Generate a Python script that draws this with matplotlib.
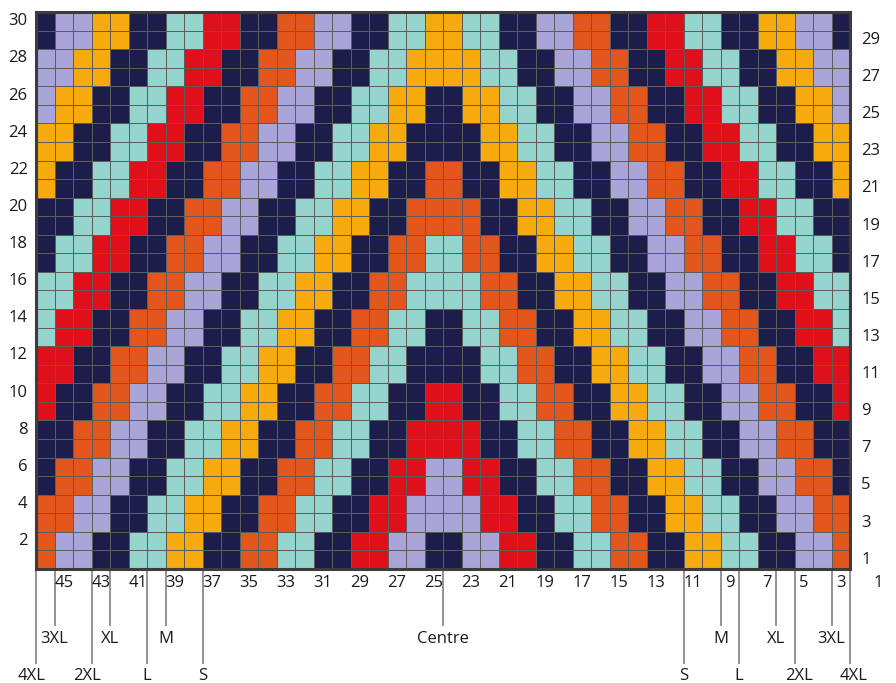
import numpy as np
import matplotlib
matplotlib.use("Agg")
import matplotlib.pyplot as plt
from matplotlib.colors import ListedColormap

# Colour keys used in the chart rows
COLOR_KEYS = ["N", "L", "Y", "T", "O", "R"]
COLOR_HEX = {
    "N": "#1c1d4b",  # navy
    "L": "#a9a5d8",  # lavender
    "Y": "#f6aa0e",  # yellow
    "T": "#95d4cc",  # teal
    "O": "#e3561b",  # orange
    "R": "#df1019",  # red
}

# Chart rows, top (row 30) to bottom (row 1); one character per stitch
chart_rows = [
    "NLLYYNNTTRRNNOOLLNNTTYYTTNNLLOONNRRTTNNYYLLN",  # 30
    "NLLYYNNTTRRNNOOLLNNTTYYTTNNLLOONNRRTTNNYYLLN",  # 29
    "LLYYNNTTRRNNOOLLNNTTYYYYTTNNLLOONNRRTTNNYYLL",  # 28
    "LLYYNNTTRRNNOOLLNNTTYYYYTTNNLLOONNRRTTNNYYLL",  # 27
    "LYYNNTTRRNNOOLLNNTTYYNNYYTTNNLLOONNRRTTNNYYL",  # 26
    "LYYNNTTRRNNOOLLNNTTYYNNYYTTNNLLOONNRRTTNNYYL",  # 25
    "YYNNTTRRNNOOLLNNTTYYNNNNYYTTNNLLOONNRRTTNNYY",  # 24
    "YYNNTTRRNNOOLLNNTTYYNNNNYYTTNNLLOONNRRTTNNYY",  # 23
    "YNNTTRRNNOOLLNNTTYYNNOONNYYTTNNLLOONNRRTTNNY",  # 22
    "YNNTTRRNNOOLLNNTTYYNNOONNYYTTNNLLOONNRRTTNNY",  # 21
    "NNTTRRNNOOLLNNTTYYNNOOOONNYYTTNNLLOONNRRTTNN",  # 20
    "NNTTRRNNOOLLNNTTYYNNOOOONNYYTTNNLLOONNRRTTNN",  # 19
    "NTTRRNNOOLLNNTTYYNNOOTTOONNYYTTNNLLOONNRRTTN",  # 18
    "NTTRRNNOOLLNNTTYYNNOOTTOONNYYTTNNLLOONNRRTTN",  # 17
    "TTRRNNOOLLNNTTYYNNOOTTTTOONNYYTTNNLLOONNRRTT",  # 16
    "TTRRNNOOLLNNTTYYNNOOTTTTOONNYYTTNNLLOONNRRTT",  # 15
    "TRRNNOOLLNNTTYYNNOOTTNNTTOONNYYTTNNLLOONNRRT",  # 14
    "TRRNNOOLLNNTTYYNNOOTTNNTTOONNYYTTNNLLOONNRRT",  # 13
    "RRNNOOLLNNTTYYNNOOTTNNNNTTOONNYYTTNNLLOONNRR",  # 12
    "RRNNOOLLNNTTYYNNOOTTNNNNTTOONNYYTTNNLLOONNRR",  # 11
    "RNNOOLLNNTTYYNNOOTTNNRRNNTTOONNYYTTNNLLOONNR",  # 10
    "RNNOOLLNNTTYYNNOOTTNNRRNNTTOONNYYTTNNLLOONNR",  # 9
    "NNOOLLNNTTYYNNOOTTNNRRRRNNTTOONNYYTTNNLLOONN",  # 8
    "NNOOLLNNTTYYNNOOTTNNRRRRNNTTOONNYYTTNNLLOONN",  # 7
    "NOOLLNNTTYYNNOOTTNNRRLLRRNNTTOONNYYTTNNLLOON",  # 6
    "NOOLLNNTTYYNNOOTTNNRRLLRRNNTTOONNYYTTNNLLOON",  # 5
    "OOLLNNTTYYNNOOTTNNRRLLLLRRNNTTOONNYYTTNNLLOO",  # 4
    "OOLLNNTTYYNNOOTTNNRRLLLLRRNNTTOONNYYTTNNLLOO",  # 3
    "OLLNNTTYYNNOOTTNNRRLLNNLLRRNNTTOONNYYTTNNLLO",  # 2
    "OLLNNTTYYNNOOTTNNRRLLNNLLRRNNTTOONNYYTTNNLLO",  # 1
]

row_labels_left = [2, 4, 6, 8, 10, 12, 14, 16, 18, 20, 22, 24, 26, 28, 30]
row_labels_right = [1, 3, 5, 7, 9, 11, 13, 15, 17, 19, 21, 23, 25, 27, 29]
stitch_labels = [45, 43, 41, 39, 37, 35, 33, 31, 29, 27, 25, 23, 21, 19, 17, 15, 13, 11, 9, 7, 5, 3, 1]
first_stitch = 46  # stitch number of the leftmost column

# size markers: (label, stitch column boundary from the left, long line?)
size_markers = [
    ("4XL", 0, True), ("3XL", 1, False), ("2XL", 3, True), ("XL", 4, False),
    ("L", 6, True), ("M", 7, False), ("S", 9, True),
    ("Centre", 22, False),
    ("S", 35, True), ("M", 37, False), ("L", 38, True), ("XL", 40, False),
    ("2XL", 41, True), ("3XL", 43, False), ("4XL", 44, True),
]

FONT = ["Open Sans", "DejaVu Sans"]
plt.rcParams["font.family"] = FONT

W, H = 896, 683
X0, X1 = 36, 850
Y0, Y1 = 12, 569

n_rows = len(chart_rows)
n_cols = len(chart_rows[0])
cw = (X1 - X0) / n_cols
rh = (Y1 - Y0) / n_rows


def px_y(py):
    return (Y1 - py) / rh


fig = plt.figure(figsize=(W / 100, H / 100), dpi=100)
ax = fig.add_axes([X0 / W, (H - Y1) / H, (X1 - X0) / W, (Y1 - Y0) / H])

grid = np.array([[COLOR_KEYS.index(c) for c in row] for row in chart_rows[::-1]])
cmap = ListedColormap([COLOR_HEX[k] for k in COLOR_KEYS])
ax.pcolormesh(np.arange(n_cols + 1), np.arange(n_rows + 1), grid, cmap=cmap,
              vmin=-0.5, vmax=len(COLOR_KEYS) - 0.5,
              edgecolors="#5c5c5c", linewidth=0.7)
ax.set_xlim(0, n_cols)
ax.set_ylim(0, n_rows)
ax.set_xticks([])
ax.set_yticks([])
for sp in ax.spines.values():
    sp.set_linewidth(2.2)
    sp.set_color("#3c3c3c")

# row numbers
for r in row_labels_left:
    ax.text(-0.45, r - 0.5, str(r), ha="right", va="center", fontsize=12,
            color="#1a1a1a", clip_on=False)
for r in row_labels_right:
    ax.text(n_cols + 0.6, r - 0.5, str(r), ha="left", va="center", fontsize=12,
            color="#1a1a1a", clip_on=False)

# stitch numbers
for s in stitch_labels:
    ax.text(first_stitch - s + 0.5, px_y(583), str(s), ha="center", va="center",
            fontsize=12, color="#1a1a1a", clip_on=False)

# size lines
for label, col, long_line in size_markers:
    y_end = px_y(664) if long_line else px_y(626)
    y_txt = px_y(676) if long_line else px_y(639)
    ax.plot([col, col], [px_y(570), y_end], color="#8a8a8a", lw=1.3,
            clip_on=False, solid_capstyle="butt")
    shift = 0.0
    if label in ("4XL", "2XL"):
        shift = -0.22 if col < n_cols / 2 else 0.22
    ax.text(col + shift, y_txt, label, ha="center", va="center", fontsize=12,
            color="#1a1a1a", clip_on=False)

fig.savefig("out.png", dpi=100)
